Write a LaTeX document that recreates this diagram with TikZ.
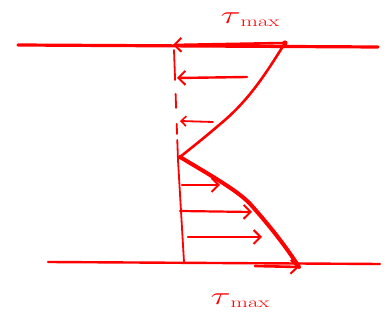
\documentclass[tikz,border=0pt]{standalone}
\usetikzlibrary{arrows.meta}
\definecolor{pen}{RGB}{255,0,0}
\tikzset{
  ink/.style={draw=pen, line cap=round, line join=round},
  barb/.style={-{Straight Barb[length=7pt,width=14pt,line width=2pt]}},
  lbl/.style={text=pen, inner sep=0pt, xscale=1.5},
}
\newcommand{\taumx}{{\fontsize{30}{30}\selectfont$\tau$}\raisebox{-3pt}{\fontsize{15}{15}\selectfont max}}
\begin{document}
\begin{tikzpicture}[x=1pt,y=-1pt]
\useasboundingbox (0,0) rectangle (392,323);
% coordinates
\coordinate (tl) at (18,45);
\coordinate (tr) at (378,47);
\coordinate (d) at (285,43);
\coordinate (a0) at (173,45);
\coordinate (bl) at (48,262);
\coordinate (br) at (380,264);
\coordinate (v) at (180,157);
\coordinate (tip) at (299,267);
\coordinate (axt) at (174,50);
\coordinate (axm) at (178,160);
\coordinate (axb) at (184,262);
\coordinate (u1s) at (247,77);  \coordinate (u1e) at (177,78);
\coordinate (u2s) at (213,122); \coordinate (u2e) at (180,121);
\coordinate (l1s) at (182,185); \coordinate (l1e) at (220,185);
\coordinate (l2s) at (180,211); \coordinate (l2e) at (252,212);
\coordinate (l3s) at (188,237); \coordinate (l3e) at (262,237);
\coordinate (bs) at (255,266);
% lines
\draw[ink, line width=3.2pt] (tl) -- (tr);
\draw[ink, line width=2.4pt] (bl) -- (br);
\draw[ink, line width=1.8pt, dash pattern=on 30pt off 14pt on 14pt off 16pt on 10pt off 6pt] (axt) -- (axm);
\draw[ink, line width=1.8pt] (axm) -- (axb);
% profile
\draw[ink, line width=2.6pt] (d) .. controls (265,75) and (250,98) .. (225,120) .. controls (205,137) .. (v);
\draw[ink, line width=4pt] (v) .. controls (215,178) and (240,192) .. (252,206) .. controls (268,224) and (285,245) .. (tip);
\fill[pen] (d) circle (2.6pt);
% arrows
\draw[ink, line width=2.6pt, barb] (d) -- (a0);
\draw[ink, line width=2.4pt, barb] (u1s) -- (u1e);
\draw[ink, line width=1.8pt, -{Straight Barb[length=5pt,width=10pt,line width=1.6pt]}] (u2s) -- (u2e);
\draw[ink, line width=2.2pt, barb] (l1s) -- (l1e);
\draw[ink, line width=2.2pt, barb] (l2s) -- (l2e);
\draw[ink, line width=2.2pt, barb] (l3s) -- (l3e);
\draw[ink, line width=2.6pt, barb] (bs) -- (tip);
% labels
\node[lbl] (tm1) at (250,20) {\taumx};
\node[lbl] (tm2) at (240,301) {\taumx};
\end{tikzpicture}
\end{document}
